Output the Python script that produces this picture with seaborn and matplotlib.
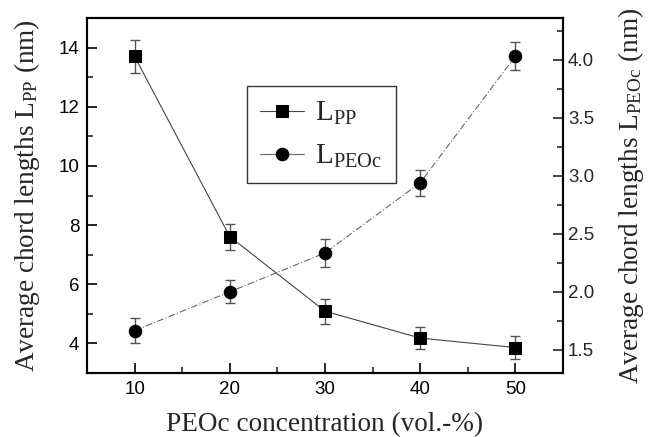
import matplotlib
matplotlib.use("Agg")
import matplotlib.pyplot as plt
import seaborn as sns
import pandas as pd
from matplotlib.ticker import MultipleLocator

conc = [10, 20, 30, 40, 50]
lpp = [13.70, 7.61, 5.09, 4.18, 3.86]
lpp_err = [0.55, 0.44, 0.42, 0.38, 0.38]
lpeoc = [1.665, 2.00, 2.335, 2.94, 4.03]
lpeoc_err = [0.105, 0.10, 0.12, 0.11, 0.12]

sns.set_style("ticks")
plt.rcParams['font.family'] = ['Liberation Sans', 'DejaVu Sans']
plt.rcParams['mathtext.fontset'] = 'custom'
plt.rcParams['mathtext.rm'] = 'Liberation Serif'
plt.rcParams['mathtext.it'] = 'Liberation Serif'

df = pd.DataFrame({"conc": conc, "lpp": lpp, "lpeoc": lpeoc})

fig = plt.figure(figsize=(6.6, 4.37), dpi=100)
ax = fig.add_axes([87/660, 1-373/437, (563-87)/660, (373-18)/437])
ax2 = ax.twinx()

ax.errorbar(conc, lpp, yerr=lpp_err, fmt='none', ecolor='#555555',
            elinewidth=1.0, capsize=3.5, capthick=1.0, zorder=2)
sns.lineplot(data=df, x="conc", y="lpp", ax=ax, color='#444444', lw=0.8,
             marker='s', markersize=8, markerfacecolor='black',
             markeredgecolor='black', label=r'$\mathrm{L_{PP}}$', legend=False, zorder=3)

ax2.errorbar(conc, lpeoc, yerr=lpeoc_err, fmt='none', ecolor='#555555',
             elinewidth=1.0, capsize=3.5, capthick=1.0, zorder=2)
sns.lineplot(data=df, x="conc", y="lpeoc", ax=ax2, color='#666666', lw=0.8,
             linestyle=(0, (6, 2, 1, 2)), marker='o', markersize=9,
             markerfacecolor='black', markeredgecolor='black',
             label=r'$\mathrm{L_{PEOc}}$', legend=False, zorder=3)

ax.set_xlim(5, 55)
ax.set_ylim(3, 15)
ax2.set_ylim(1.3, 4.36)

ax.xaxis.set_major_locator(MultipleLocator(10))
ax.xaxis.set_minor_locator(MultipleLocator(5))
ax.yaxis.set_major_locator(MultipleLocator(2))
ax.yaxis.set_minor_locator(MultipleLocator(1))
ax2.yaxis.set_major_locator(MultipleLocator(0.5))
ax2.yaxis.set_minor_locator(MultipleLocator(0.25))
ax2.yaxis.set_major_formatter(matplotlib.ticker.FormatStrFormatter('%.1f'))

for a in (ax, ax2):
    for s in a.spines.values():
        s.set_visible(True)
        s.set_linewidth(1.5)
        s.set_color('black')
ax.tick_params(axis='both', which='major', direction='in', length=7, width=1.2,
               labelsize=13.5, colors='black', top=False)
ax.tick_params(axis='both', which='minor', direction='in', length=4, width=1.2, top=False)
ax.tick_params(axis='y', which='both', right=False, pad=5.5)
ax2.tick_params(axis='y', which='major', direction='in', length=7, width=1.2, labelsize=13.5)
ax2.tick_params(axis='y', which='minor', direction='in', length=4, width=1.2)
ax.tick_params(axis='x', pad=6)

serif = ['Liberation Serif', 'DejaVu Serif']
ax.set_xlabel('PEOc concentration (vol.-%)', fontsize=19.6, family=serif, labelpad=10)
ax.set_ylabel(r'Average chord lengths $\mathrm{L_{PP}}$ (nm)', fontsize=19.6, family=serif, labelpad=12)
ax2.set_ylabel(r'Average chord lengths $\mathrm{L_{PEOc}}$ (nm)', fontsize=19.6, family=serif,
               rotation=90, labelpad=16)

h1, l1 = ax.get_legend_handles_labels()
h2, l2 = ax2.get_legend_handles_labels()
leg = ax2.legend(h1 + h2, l1 + l2, loc='upper left', bbox_to_anchor=(0.336, 0.808),
                 borderaxespad=0, fontsize=21, frameon=True, fancybox=False,
                 edgecolor='black', handlelength=1.5, handletextpad=0.4,
                 borderpad=0.45, labelspacing=0.5)
leg.get_frame().set_linewidth(1.0)
leg.get_lines()[1].set_linestyle('-')

fig.savefig("out.png", dpi=100)
